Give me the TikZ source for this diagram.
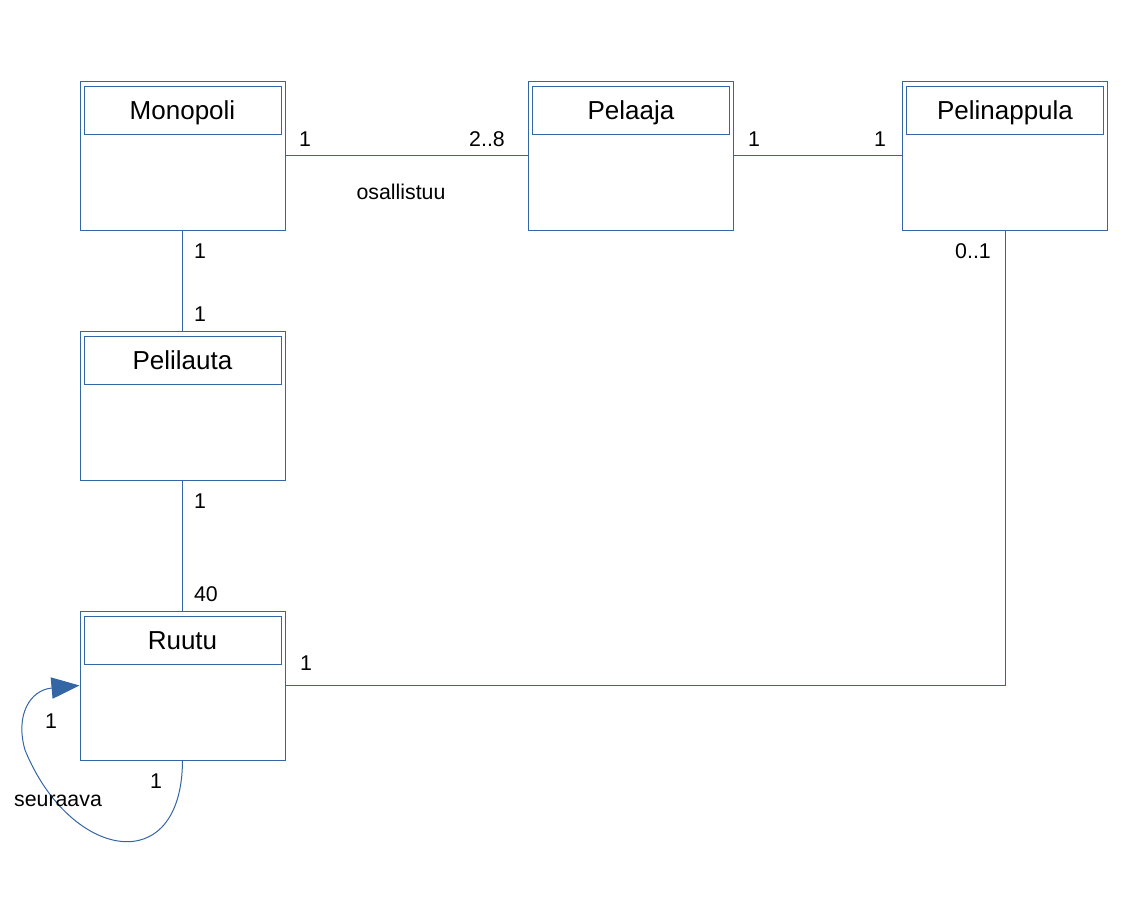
\documentclass[tikz,border=0pt]{standalone}
\usepackage{fontspec}
\setmainfont{Liberation Sans}
\usetikzlibrary{arrows.meta}
\definecolor{umlblue}{HTML}{3465A4}
\tikzset{
  classbox/.style={draw=umlblue, line width=0.75pt, minimum width=153.75pt, minimum height=111.75pt, inner sep=0pt, fill=white},
  titlebox/.style={draw=umlblue, line width=0.75pt, minimum width=147.75pt, minimum height=36pt, inner sep=0pt, text height=15pt, text depth=1.5pt, font=\fontsize{19.5}{22}\selectfont},
  conn/.style={draw=umlblue, line width=0.75pt},
  lbl/.style={inner sep=0pt, font=\fontsize{16}{18}\selectfont}
}
\begin{document}
\begin{tikzpicture}[x=0.75pt, y=-0.75pt]
\useasboundingbox (0,0) rectangle (1141,918);
% classes
\node[classbox] (mono) at (182.5,155.5) {};
\node[titlebox] (monot) at (182.5,110) {Monopoli};
\node[classbox] (pelaaja) at (631,155.5) {};
\node[titlebox] (pelaajat) at (631,110) {Pelaaja};
\node[classbox] (nappula) at (1005,155.5) {};
\node[titlebox] (nappulat) at (1005,110) {Pelinappula};
\node[classbox] (lauta) at (182.5,405.5) {};
\node[titlebox] (lautat) at (182.5,360) {Pelilauta};
\node[classbox] (ruutu) at (182.5,685.5) {};
\node[titlebox] (ruutut) at (182.5,640) {Ruutu};
% connectors
\draw[conn] (mono.east) -- (pelaaja.west);
\draw[conn] (pelaaja.east) -- (nappula.west);
\draw[conn] (mono.south) -- (lauta.north);
\draw[conn] (lauta.south) -- (ruutu.north);
\draw[conn] (ruutu.east) -- (nappula.south |- ruutu.east) -- (nappula.south);
\draw[conn, -{Triangle[length=21pt, width=16pt]}] (ruutu.south) .. controls (182,880) and (70,860) .. (25,750) .. controls (15,715) and (30,690) .. (ruutu.west);
% labels
\node[lbl] (l1) at (305,139) {1};
\node[lbl] (l2) at (487,139) {2..8};
\node[lbl] (l3) at (401,192) {osallistuu};
\node[lbl] (l4) at (754,139) {1};
\node[lbl] (l5) at (880,139) {1};
\node[lbl] (l6) at (200,251) {1};
\node[lbl] (l7) at (200,314) {1};
\node[lbl] (l8) at (200,501) {1};
\node[lbl] (l9) at (206,594) {40};
\node[lbl] (l10) at (306,663) {1};
\node[lbl] (l11) at (973,251) {0..1};
\node[lbl] (l12) at (51,721) {1};
\node[lbl] (l13) at (156,781) {1};
\node[lbl] (l14) at (58,801) {seuraava};
\end{tikzpicture}
\end{document}
